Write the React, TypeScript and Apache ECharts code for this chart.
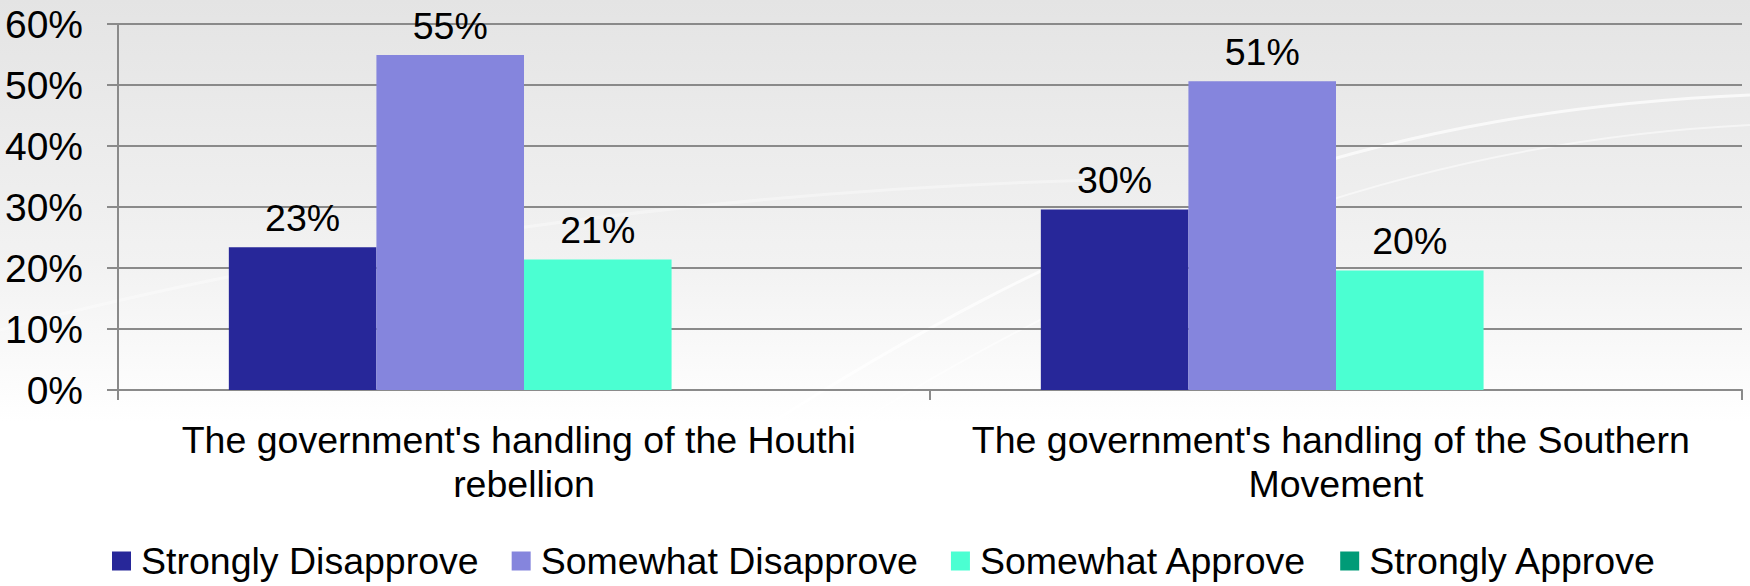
import React, { useEffect, useRef } from "react";
import * as echarts from "echarts";

const categories = [
  "The government's handling of the Houthi rebellion",
  "The government's handling of the Southern Movement",
];
const seriesNames = [
  "Strongly Disapprove",
  "Somewhat Disapprove",
  "Somewhat Approve",
  "Strongly Approve",
];
const stronglyDisapprove = [23.4, 29.6];
const somewhatDisapprove = [54.9, 50.6];
const somewhatApprove = [21.4, 19.6];
const stronglyApprove = [0, 0];
const yTicks = [0, 10, 20, 30, 40, 50, 60];

const colors = ["#272799", "#8585dd", "#4bffd2", "#009b77"];
const FONT = "'Liberation Sans', Arial, sans-serif";

export default function App() {
  const ref = useRef<HTMLDivElement>(null);
  useEffect(() => {
    if (!ref.current) return;
    const chart = echarts.init(ref.current, undefined, { renderer: "svg" });
    const values = [stronglyDisapprove, somewhatDisapprove, somewhatApprove, stronglyApprove];
    const series = seriesNames.map((name, i) => ({
      name,
      type: "bar",
      data: values[i],
      barGap: "0%",
      barCategoryGap: "27.3%",
      itemStyle: { color: colors[i] },
      label: {
        show: i < 3,
        position: "top",
        distance: 10,
        fontSize: 37.5,
        fontFamily: FONT,
        color: "#000",
        formatter: (p: any) => Math.round(p.value) + "%",
      },
    }));
    chart.setOption({
      animation: false,
      backgroundColor: {
        type: "linear",
        x: 0,
        y: 0,
        x2: 0,
        y2: 1,
        colorStops: [
          { offset: 0, color: "#e4e4e4" },
          { offset: 0.45, color: "#f2f2f2" },
          { offset: 0.72, color: "#ffffff" },
          { offset: 1, color: "#ffffff" },
        ],
      },
      textStyle: { fontFamily: FONT },
      graphic: [
        {
          type: "bezierCurve",
          silent: true,
          z: -1,
          shape: { x1: 700, y1: 470, x2: 1750, y2: 95, cpx1: 1100, cpy1: 200, cpx2: 1400, cpy2: 110 },
          style: { stroke: "rgba(255,255,255,0.7)", lineWidth: 3, fill: null },
        },
        {
          type: "bezierCurve",
          silent: true,
          z: -1,
          shape: { x1: 800, y1: 460, x2: 1750, y2: 125, cpx1: 1150, cpy1: 230, cpx2: 1450, cpy2: 140 },
          style: { stroke: "rgba(255,255,255,0.5)", lineWidth: 2, fill: null },
        },
        {
          type: "bezierCurve",
          silent: true,
          z: -1,
          shape: { x1: 0, y1: 330, x2: 1100, y2: 180, cpx1: 300, cpy1: 250, cpx2: 700, cpy2: 190 },
          style: { stroke: "rgba(255,255,255,0.35)", lineWidth: 3, fill: null },
        },
      ],
      legend: {
        data: seriesNames,
        top: 537,
        left: 107,
        icon: "rect",
        itemWidth: 19,
        itemHeight: 19,
        itemGap: 33,
        textStyle: { fontSize: 37.5, fontFamily: FONT, color: "#000", padding: [0, 0, 0, 5] },
      },
      grid: { left: 118, right: 8, top: 24, bottom: 196, containLabel: false },
      xAxis: {
        type: "category",
        data: categories,
        axisLine: { show: true, lineStyle: { color: "#8a8a8a", width: 2 } },
        axisTick: { show: true, length: 10, lineStyle: { color: "#8a8a8a", width: 2 } },
        axisLabel: {
          fontSize: 37.5,
          fontFamily: FONT,
          color: "#000",
          margin: 28,
          lineHeight: 44,
          width: 790,
          overflow: "break",
          interval: 0,
        },
      },
      yAxis: {
        type: "value",
        min: yTicks[0],
        max: yTicks[yTicks.length - 1],
        interval: 10,
        axisLine: { show: true, lineStyle: { color: "#8a8a8a", width: 2 } },
        axisTick: { show: true, length: 11, lineStyle: { color: "#8a8a8a", width: 2 } },
        splitLine: { show: true, lineStyle: { color: "#8a8a8a", width: 2 } },
        axisLabel: {
          fontSize: 39,
          fontFamily: FONT,
          color: "#000",
          margin: 35,
          formatter: (v: number) => v + "%",
        },
      },
      series,
    });
    return () => chart.dispose();
  }, []);
  return (
    <div
      ref={ref}
      style={{ position: "fixed", left: 0, top: 0, width: 1750, height: 586 }}
    />
  );
}
